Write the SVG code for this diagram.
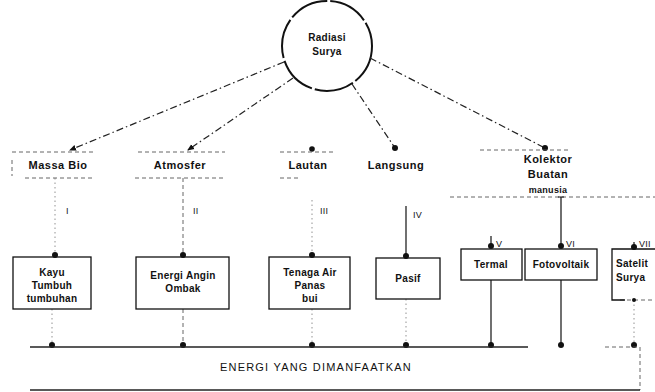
<svg xmlns="http://www.w3.org/2000/svg" width="655" height="392" viewBox="0 0 655 392">
<style>
text{font-family:"Liberation Sans",Arial,sans-serif;font-size:10px;fill:#111;text-anchor:middle;font-weight:bold;letter-spacing:0.3px}
.lbl{font-size:11px;letter-spacing:0.5px}
.num{font-size:9px;font-weight:normal;text-anchor:start}
.box{fill:none;stroke:#111;stroke-width:1.3}
.dd{fill:none;stroke:#222;stroke-width:1.2;stroke-dasharray:7 3 1.5 3}
.dl{fill:none;stroke:#555;stroke-width:0.9;stroke-dasharray:4 3}
.dot{fill:none;stroke:#777;stroke-width:0.8;stroke-dasharray:1.5 3}
.sl{fill:none;stroke:#111;stroke-width:1.2}
.bar{fill:none;stroke:#222;stroke-width:1.3}
</style>
<defs>
<marker id="arr" markerWidth="8" markerHeight="8" refX="6" refY="4" orient="auto" markerUnits="userSpaceOnUse">
<path d="M0,1 L7,4 L0,7 Z" fill="#111"/>
</marker>
<marker id="dt" markerWidth="8" markerHeight="8" refX="4" refY="4" markerUnits="userSpaceOnUse">
<circle cx="4" cy="4" r="3" fill="#111"/>
</marker>
</defs>

<g id="radiasi">
<circle cx="327" cy="46" r="45" fill="none" stroke="#111" stroke-width="2" stroke-dasharray="40 3"/>
<text x="327" y="41">Radiasi</text>
<text x="327" y="55">Surya</text>
</g>

<g id="connectors">
<line class="dd" x1="284" y1="62" x2="70" y2="150" marker-end="url(#arr)"/>
<line class="dd" x1="293" y1="78" x2="188" y2="150" marker-end="url(#arr)"/>
<line class="dd" x1="352" y1="84" x2="395" y2="148" marker-end="url(#dt)"/>
<line class="dd" x1="370" y1="58" x2="545" y2="148" marker-end="url(#dt)"/>
<circle cx="312" cy="149" r="2.8" fill="#111"/>
<line class="dl" x1="12" y1="152" x2="95" y2="152"/>
<line class="dl" x1="25" y1="178" x2="95" y2="178"/>
<line class="dl" x1="12" y1="160" x2="12" y2="176"/>
<line class="dl" x1="138" y1="152" x2="225" y2="152"/>
<line class="dl" x1="135" y1="178" x2="225" y2="178"/>
<line class="dl" x1="280" y1="152" x2="336" y2="152"/>
<line class="dl" x1="280" y1="178" x2="300" y2="178"/>
<line class="dl" x1="480" y1="150" x2="570" y2="150"/>
<line class="dl" x1="450" y1="197" x2="655" y2="197"/>
<line class="dot" x1="55" y1="178" x2="55" y2="255" marker-end="url(#dt)"/>
<line class="dl" x1="183" y1="178" x2="183" y2="255" marker-end="url(#dt)"/>
<line class="dot" x1="312" y1="200" x2="312" y2="255" marker-end="url(#dt)"/>
<line class="sl" x1="406" y1="206" x2="406" y2="256" marker-end="url(#dt)"/>
<line class="sl" x1="491" y1="236" x2="491" y2="246" marker-end="url(#dt)"/>
<path class="sl" d="M558,197 H564 M561,197 V246" marker-end="url(#dt)"/>
<line class="sl" x1="634" y1="242" x2="634" y2="247" marker-end="url(#dt)"/>
<line class="dot" x1="52" y1="309" x2="52" y2="345" marker-end="url(#dt)"/>
<line class="dl" x1="183" y1="309" x2="183" y2="345" marker-end="url(#dt)"/>
<line class="dot" x1="312" y1="309" x2="312" y2="345" marker-end="url(#dt)"/>
<line class="dot" x1="406" y1="299" x2="406" y2="345" marker-end="url(#dt)"/>
<line class="sl" x1="491" y1="280" x2="491" y2="345" marker-end="url(#dt)"/>
<line class="sl" x1="561" y1="280" x2="561" y2="345" marker-end="url(#dt)"/>
<line class="dot" x1="634" y1="300" x2="634" y2="345" marker-end="url(#dt)"/>
<line class="dl" x1="620" y1="300" x2="655" y2="300"/>
<circle cx="634" cy="300" r="2" fill="#111"/>
<text class="num" x="66" y="214">I</text>
<text class="num" x="193" y="214">II</text>
<text class="num" x="320" y="214">III</text>
<text class="num" x="413" y="218">IV</text>
<text class="num" x="496" y="247">V</text>
<text class="num" x="566" y="247">VI</text>
<text class="num" x="639" y="247">VII</text>
</g>

<g id="massa-bio"><text class="lbl" x="58" y="169">Massa Bio</text></g>
<g id="atmosfer"><text class="lbl" x="180" y="169">Atmosfer</text></g>
<g id="lautan"><text class="lbl" x="308" y="169">Lautan</text></g>
<g id="langsung"><text class="lbl" x="396" y="169">Langsung</text></g>
<g id="kolektor">
<text class="lbl" x="548" y="163">Kolektor</text>
<text class="lbl" x="548" y="178">Buatan</text>
<text x="548" y="193" style="font-size:9px">manusia</text>
</g>

<g id="kayu">
<rect class="box" x="13" y="257" width="78" height="52"/>
<text x="52" y="276">Kayu</text>
<text x="52" y="289">Tumbuh</text>
<text x="52" y="302">tumbuhan</text>
</g>
<g id="energi-angin">
<rect class="box" x="136" y="257" width="93" height="52"/>
<text x="183" y="279">Energi Angin</text>
<text x="183" y="292">Ombak</text>
</g>
<g id="tenaga-air">
<rect class="box" x="269" y="257" width="81" height="52"/>
<text x="310" y="276">Tenaga Air</text>
<text x="310" y="289">Panas</text>
<text x="310" y="302">bui</text>
</g>
<g id="pasif">
<rect class="box" x="376" y="258" width="64" height="41"/>
<text x="408" y="282">Pasif</text>
</g>
<g id="termal">
<rect class="box" x="461" y="249" width="61" height="31"/>
<text x="491" y="268">Termal</text>
</g>
<g id="fotovoltaik">
<rect class="box" x="525" y="249" width="72" height="31"/>
<text x="561" y="268">Fotovoltaik</text>
</g>
<g id="satelit">
<path class="box" d="M656,249 H612 V300 H625"/>
<text x="616" y="267" style="text-anchor:start">Satelit</text>
<text x="616" y="281" style="text-anchor:start">Surya</text>
</g>

<g id="energi">
<line class="bar" x1="30" y1="347" x2="528" y2="347"/>
<line class="dl" x1="605" y1="347" x2="640" y2="347"/>
<line class="dl" x1="640" y1="347" x2="640" y2="390"/>
<line class="bar" x1="30" y1="390" x2="640" y2="390"/>
<text x="316" y="371" style="font-weight:normal;font-size:11px;letter-spacing:1.2px">ENERGI YANG DIMANFAATKAN</text>
</g>
</svg>
